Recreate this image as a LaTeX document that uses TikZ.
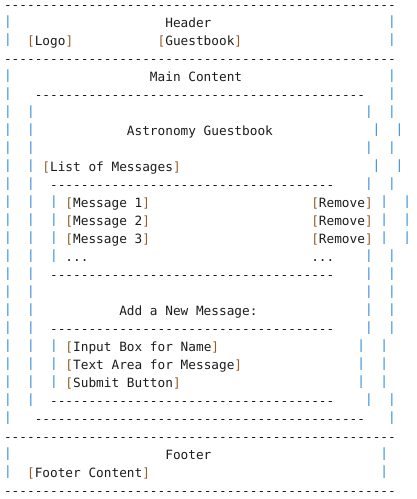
\documentclass[tikz,border=0pt]{standalone}
\usepackage{fontspec}
\newfontfamily\asciifont{DejaVu Sans Mono}
\definecolor{pipeblue}{RGB}{50,138,218}
\definecolor{brkbrown}{RGB}{150,92,34}
\definecolor{inkgray}{RGB}{28,28,28}
\newcommand{\field}[1]{\textcolor{brkbrown}{[}#1\textcolor{brkbrown}{]}}
\newcommand{\dashrun}[1]{\foreach \k in {1,...,#1}{-}}
\frenchspacing

\tikzset{
  asc/.style={font=\asciifont\fontsize{12.76pt}{18pt}\selectfont, text=inkgray,
    inner sep=0pt, outer sep=0pt, anchor=base west},
  wall/.style={asc, text=pipeblue, yshift=2pt},
}

\begin{document}
\begin{tikzpicture}
\useasboundingbox (0pt,0pt) rectangle (416pt,-499pt);
\begin{scope}[x=7.68pt, y=-18pt, shift={(4.05pt,-9.3pt)}]
    % horizontal rules
    \node[asc] (top) at (0,0) {\dashrun{51}};
    \node[asc] (headsep) at (0,3) {\dashrun{51}};
    \node[asc] (boxtop) at (4,5) {\dashrun{43}};
    \node[asc] (listtop) at (6,10) {\dashrun{37}};
    \node[asc] (listbot) at (6,15) {\dashrun{37}};
    \node[asc] (formtop) at (6,18) {\dashrun{37}};
    \node[asc] (formbot) at (6,22) {\dashrun{37}};
    \node[asc] (boxbot) at (4,23) {\dashrun{43}};
    \node[asc] (footsep) at (0,24) {\dashrun{51}};
    \node[asc] (bottom) at (0,27) {\dashrun{51}};

    % vertical walls
    \foreach \r in {1,2,4,5,...,23,25,26}
        \node[wall] (pl\r) at (0,\r) {|};
    \foreach \r in {6,...,22}
        \node[wall] (pm\r) at (3,\r) {|};
    \foreach \r in {11,...,14,19,20,21}
        \node[wall] (pi\r) at (6,\r) {|};
    \foreach \r/\c in {1/50,2/50,4/50,5/50,6/47,6/50,7/48,7/51,8/47,8/50,9/48,9/51,
        10/47,10/50,11/49,11/52,12/49,12/52,13/49,13/52,14/47,14/50,15/47,15/50,
        16/47,16/50,17/47,17/50,18/47,18/50,19/46,19/49,20/46,20/49,21/46,21/49,
        22/47,22/50,23/50,25/49,26/49}
        \node[wall] (pr\r-\c) at (\c,\r) {|};

    % header
    \node[asc] (header) at (21,1) {Header};
    \node[asc] (logo) at (3,2) {\field{Logo}};
    \node[asc] (gbook) at (20,2) {\field{Guestbook}};

    % main content
    \node[asc] (main) at (19,4) {Main Content};
    \node[asc] (title) at (16,7) {Astronomy Guestbook};
    \node[asc] (list) at (5,9) {\field{List of Messages}};
    \foreach \k [evaluate=\k as \r using int(10+\k)] in {1,2,3} {
        \node[asc] (msg\k) at (8,\r) {\field{Message \k}};
        \node[asc] (rm\k) at (40,\r) {\field{Remove}};
    }
    \node[asc] (moremsg) at (8,14) {...};
    \node[asc] (morerm) at (40,14) {...};
    \node[asc] (addnew) at (15,17) {Add a New Message:};
    \node[asc] (name) at (8,19) {\field{Input Box for Name}};
    \node[asc] (text) at (8,20) {\field{Text Area for Message}};
    \node[asc] (submit) at (8,21) {\field{Submit Button}};

    % footer
    \node[asc] (footer) at (21,25) {Footer};
    \node[asc] (footc) at (3,26) {\field{Footer Content}};
\end{scope}
\end{tikzpicture}
\end{document}
